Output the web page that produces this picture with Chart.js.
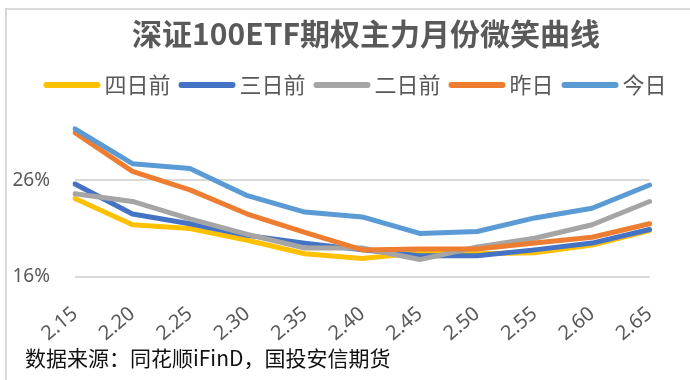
<!DOCTYPE html>
<html>
<head>
<meta charset="utf-8">
<script src="https://cdn.jsdelivr.net/npm/chart.js@4.4.1/dist/chart.umd.min.js"></script>
<style>
  body { margin: 0; background: #fff; }
  #wrap { position: relative; width: 690px; height: 380px; overflow: hidden; }
  #frame { position: absolute; left: 5px; top: 8px; width: 720px; height: 420px; border: 2px solid #d9d9d9; }
  #myChart { position: absolute; left: 0; top: 0; }
  #source { position: absolute; left: 25px; top: 342px; font-size: 21px; font-family: "Noto Sans CJK SC", sans-serif; color: #111; white-space: nowrap; }
</style>
</head>
<body>
<div id="wrap">
  <div id="frame"></div>
  <canvas id="myChart" width="690" height="380"></canvas>
  <div id="source">数据来源：同花顺iFinD，国投安信期货</div>
</div>
<script>
const titleText = '深证100ETF期权主力月份微笑曲线';
const strikes = ['2.15', '2.20', '2.25', '2.30', '2.35', '2.40', '2.45', '2.50', '2.55', '2.60', '2.65'];
const yTicks = [16, 26];

// implied vol, %
const day4 = [24.1, 21.4, 21.0, 19.8, 18.4, 17.9, 18.5, 18.4, 18.5, 19.3, 20.8];
const day3 = [25.6, 22.5, 21.5, 20.3, 19.5, 18.8, 18.2, 18.2, 18.8, 19.5, 20.9];
const day2 = [24.6, 23.8, 22.0, 20.4, 19.0, 19.0, 17.8, 19.1, 20.0, 21.4, 23.8];
const yesterday = [30.9, 26.9, 25.0, 22.5, 20.6, 18.8, 18.9, 18.9, 19.5, 20.1, 21.5];
const today = [31.3, 27.7, 27.2, 24.4, 22.7, 22.2, 20.5, 20.7, 22.1, 23.1, 25.5];

const names = ['四日前', '三日前', '二日前', '昨日', '今日'];
const colors = ['#FFC000', '#4472C4', '#A5A5A5', '#ED7D31', '#5B9BD5'];
const series = [day4, day3, day2, yesterday, today];

const textColor = '#595959';

// title + legend drawn across the top of the canvas
const header = {
    id: 'header',
    afterDraw(chart) {
        const ctx = chart.ctx;
        ctx.save();
        ctx.fillStyle = textColor;
        ctx.textBaseline = 'middle';

        ctx.textAlign = 'center';
        ctx.font = 'bold 30px "Noto Sans CJK SC"';
        ctx.fillText(titleText, 366, 34);

        ctx.textAlign = 'left';
        ctx.font = '22px "Noto Sans CJK SC"';
        const lineLen = 57, gapIn = 4, gapOut = 8;
        const items = chart.data.datasets.map(ds => ({
            label: ds.label, color: ds.borderColor,
            w: ctx.measureText(ds.label).width
        }));
        let total = 0;
        items.forEach((it, i) => { total += lineLen + gapIn + it.w + (i ? gapOut : 0); });
        let x = 355 - total / 2;
        const y = 85;
        items.forEach(it => {
            ctx.strokeStyle = it.color;
            ctx.lineWidth = 6;
            ctx.lineCap = 'round';
            ctx.beginPath();
            ctx.moveTo(x + 3, y);
            ctx.lineTo(x + lineLen - 3, y);
            ctx.stroke();
            x += lineLen + gapIn;
            ctx.fillText(it.label, x, y);
            x += it.w + gapOut;
        });
        ctx.restore();
    }
};

const ctx = document.getElementById('myChart');
const myChart = new Chart(ctx, {
    type: 'line',
    data: {
        labels: strikes,
        datasets: series.map((d, i) => ({
            label: names[i],
            data: d,
            borderColor: colors[i],
            backgroundColor: colors[i],
            borderWidth: 5,
            pointRadius: 0,
            tension: 0,
            borderJoinStyle: 'round',
            borderCapStyle: 'round',
            order: series.length - i
        }))
    },
    options: {
        responsive: false,
        animation: false,
        layout: {
            padding: { top: 93, right: 36, left: 0, bottom: 0 }
        },
        plugins: {
            legend: { display: false },
            title: { display: false },
            tooltip: { enabled: false }
        },
        scales: {
            x: {
                type: 'category',
                offset: false,
                grid: { display: false, drawTicks: false },
                border: { display: false },
                afterFit: s => { s.height = 103; },
                ticks: {
                    autoSkip: false,
                    minRotation: 40,
                    maxRotation: 40,
                    padding: 25,
                    color: textColor,
                    font: { family: 'Noto Sans', size: 20 }
                }
            },
            y: {
                min: 16,
                max: 35,
                afterBuildTicks: s => { s.ticks = yTicks.map(v => ({ value: v })); },
                afterFit: s => { s.width = 75; },
                grid: { color: '#d9d9d9', lineWidth: 2, drawTicks: false },
                border: { display: false },
                ticks: {
                    padding: 25,
                    color: textColor,
                    font: { family: 'Noto Sans', size: 19 },
                    callback: function(value) {
                        return value + '%';
                    }
                }
            }
        }
    },
    plugins: [header]
});
</script>
</body>
</html>
